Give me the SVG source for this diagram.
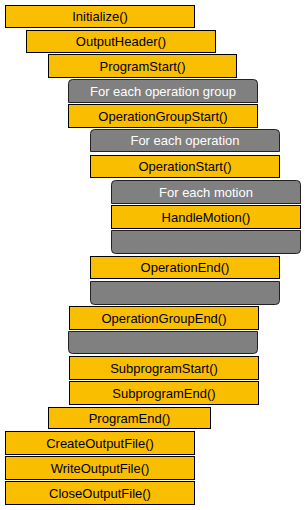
<svg xmlns="http://www.w3.org/2000/svg" width="305" height="510" viewBox="0 0 305 510">
<style>
.f{fill:#F9BE00;stroke:#000;stroke-width:1}
.g{fill:#808080;stroke:#222;stroke-width:1}
text{font-family:"Liberation Sans",Arial,sans-serif;font-size:13px;text-anchor:middle;dominant-baseline:central}
.t{fill:#000}
.w{fill:#fff}
</style>
<rect width="305" height="510" fill="#fff"/>
<g id="initialize"><rect class="f" x="5.5" y="5.5" width="189" height="22"/><text class="t" x="100" y="16.5">Initialize()</text></g>
<g id="outputheader"><rect class="f" x="26.5" y="30.5" width="189" height="22"/><text class="t" x="121" y="41.5">OutputHeader()</text></g>
<g id="programstart"><rect class="f" x="48.5" y="54.5" width="188" height="23"/><text class="t" x="142.5" y="66">ProgramStart()</text></g>
<g id="loop-opgroup-top"><path class="g" d="M68.5 102.5V83.5Q68.5 79.5 72.5 79.5H253.5Q257.5 79.5 257.5 83.5V102.5Z"/><text class="w" x="163" y="91">For each operation group</text></g>
<g id="opgroupstart"><rect class="f" x="68.5" y="104.5" width="189" height="23"/><text class="t" x="163" y="116">OperationGroupStart()</text></g>
<g id="loop-op-top"><path class="g" d="M90.5 151.5V133.5Q90.5 129.5 94.5 129.5H275.5Q279.5 129.5 279.5 133.5V151.5Z"/><text class="w" x="185" y="140.5">For each operation</text></g>
<g id="opstart"><rect class="f" x="90.5" y="155.5" width="189" height="22"/><text class="t" x="185" y="166.5">OperationStart()</text></g>
<g id="loop-motion-top"><path class="g" d="M111.5 203.5V184.5Q111.5 180.5 115.5 180.5H296.5Q300.5 180.5 300.5 184.5V203.5Z"/><text class="w" x="206" y="192">For each motion</text></g>
<g id="handlemotion"><rect class="f" x="111.5" y="205.5" width="189" height="23"/><text class="t" x="206" y="217">HandleMotion()</text></g>
<g id="loop-motion-bottom"><path class="g" d="M111.5 230.5H300.5V249.5Q300.5 253.5 296.5 253.5H115.5Q111.5 253.5 111.5 249.5Z"/></g>
<g id="opend"><rect class="f" x="90.5" y="256.5" width="189" height="22"/><text class="t" x="185" y="267.5">OperationEnd()</text></g>
<g id="loop-op-bottom"><path class="g" d="M90.5 281.5H279.5V300.5Q279.5 304.5 275.5 304.5H94.5Q90.5 304.5 90.5 300.5Z"/></g>
<g id="opgroupend"><rect class="f" x="69.5" y="306.5" width="189" height="23"/><text class="t" x="164" y="318">OperationGroupEnd()</text></g>
<g id="loop-opgroup-bottom"><path class="g" d="M68.5 331.5H257.5V349.5Q257.5 353.5 253.5 353.5H72.5Q68.5 353.5 68.5 349.5Z"/></g>
<g id="subprogramstart"><rect class="f" x="69.5" y="356.5" width="189" height="23"/><text class="t" x="164" y="368">SubprogramStart()</text></g>
<g id="subprogramend"><rect class="f" x="69.5" y="381.5" width="189" height="23"/><text class="t" x="164" y="393">SubprogramEnd()</text></g>
<g id="programend"><rect class="f" x="48.5" y="407.5" width="162" height="21"/><text class="t" x="129.5" y="418">ProgramEnd()</text></g>
<g id="createoutputfile"><rect class="f" x="5.5" y="431.5" width="189" height="23"/><text class="t" x="100" y="443">CreateOutputFile()</text></g>
<g id="writeoutputfile"><rect class="f" x="5.5" y="456.5" width="189" height="23"/><text class="t" x="100" y="468">WriteOutputFile()</text></g>
<g id="closeoutputfile"><rect class="f" x="5.5" y="481.5" width="189" height="23"/><text class="t" x="100" y="493">CloseOutputFile()</text></g>
<g id="connectors"></g>
</svg>
